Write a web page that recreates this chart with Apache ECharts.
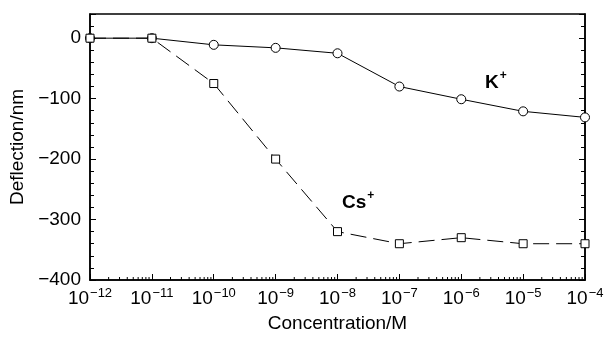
<!DOCTYPE html>
<html>
<head>
<meta charset="utf-8">
<script src="https://cdn.jsdelivr.net/npm/echarts@6/dist/echarts.min.js"></script>
<style>html,body{margin:0;padding:0;background:#fff}#c{width:607px;height:338px}</style>
</head>
<body>
<div id="c"></div>
<script>
var concentrations = [1e-12, 1e-11, 1e-10, 1e-9, 1e-8, 1e-7, 1e-6, 1e-5, 1e-4];
var kValues = [0, 0, -11, -16, -25, -80, -101, -121, -131];
var csValues = [0, 0, -75, -200, -320, -340, -330, -340, -340];
var xTickExponents = [-12, -11, -10, -9, -8, -7, -6, -5, -4];
var yTicks = [0, -100, -200, -300, -400];

var FONT = 'Liberation Sans, Arial, Helvetica, sans-serif';

function pairs(xs, ys) { return xs.map(function (x, i) { return [x, ys[i]]; }); }

// minor log tick positions (2..9 per decade)
var minorTicks = [];
for (var e = -12; e < -4; e++) {
  for (var m = 2; m <= 9; m++) minorTicks.push([m * Math.pow(10, e)]);
}

var chart = echarts.init(document.getElementById('c'), null, { renderer: 'canvas' });
chart.setOption({
  animation: false,
  backgroundColor: '#fff',
  grid: { left: 90, right: 22, top: 14, bottom: 53, show: true, borderColor: '#000', borderWidth: 1.5 },
  xAxis: [{
    type: 'log', logBase: 10, min: 1e-12, max: 1e-4,
    name: 'Concentration/M', nameLocation: 'middle', nameGap: 34,
    nameTextStyle: { fontFamily: FONT, fontSize: 19, color: '#000' },
    axisLine: { show: true, onZero: false, lineStyle: { color: '#000', width: 1.5 } },
    axisTick: { show: true, inside: true, length: 6, lineStyle: { color: '#000' } },
    minorTick: { show: false },
    splitLine: { show: false },
    axisLabel: {
      margin: 7, color: '#000', fontFamily: FONT,
      formatter: function (v) {
        var ex = Math.round(Math.log10(v));
        return '{b|10}{s|\u2212' + Math.abs(ex) + '}';
      },
      rich: {
        b: { fontSize: 19, fontFamily: FONT, color: '#000', verticalAlign: 'bottom', lineHeight: 21 },
        s: { fontSize: 13, fontFamily: FONT, color: '#000', verticalAlign: 'top', lineHeight: 21, padding: [0, 0, 7, 1] }
      }
    }
  }],
  yAxis: [{
    type: 'value', min: -400, max: 40, interval: 100,
    name: 'Deflection/nm', nameLocation: 'middle', nameGap: 60,
    nameTextStyle: { fontFamily: FONT, fontSize: 19, color: '#000' },
    axisLine: { show: true, onZero: false, lineStyle: { color: '#000', width: 1.5 } },
    axisTick: { show: true, inside: true, length: 6, lineStyle: { color: '#000' } },
    minorTick: { show: true, splitNumber: 5, length: 4, lineStyle: { color: '#000' } },
    splitLine: { show: false },
    axisLabel: {
      showMaxLabel: false, margin: 9, color: '#000', fontFamily: FONT, fontSize: 19,
      formatter: function (v) { return v < 0 ? '\u2212' + Math.abs(v) : String(v); }
    }
  }, {
    type: 'value', min: -400, max: 40, interval: 100, position: 'right',
    axisLine: { show: true, onZero: false, lineStyle: { color: '#000', width: 1.5 } },
    axisTick: { show: true, inside: true, length: 6, lineStyle: { color: '#000' } },
    minorTick: { show: true, splitNumber: 5, length: 4, lineStyle: { color: '#000' } },
    splitLine: { show: false },
    axisLabel: { show: false }
  }],
  series: [{
    name: 'minor', type: 'custom', silent: true, z: 1,
    data: minorTicks,
    renderItem: function (params, api) {
      var p = api.coord([api.value(0), -400]);
      return { type: 'line', shape: { x1: p[0], y1: p[1], x2: p[0], y2: p[1] - 3 }, style: { stroke: '#000', lineWidth: 1 } };
    },
    encode: { x: 0 }
  }, {
    name: 'K+', type: 'line', data: pairs(concentrations, kValues),
    symbol: 'circle', symbolSize: 9, z: 3,
    itemStyle: { color: '#fff', borderColor: '#000', borderWidth: 1 },
    lineStyle: { color: '#000', width: 1 }
  }, {
    name: 'Cs+', type: 'line', data: pairs(concentrations, csValues),
    symbol: 'rect', symbolSize: 8, z: 4,
    itemStyle: { color: '#fff', borderColor: '#000', borderWidth: 1 },
    lineStyle: { color: '#000', width: 1, type: [16, 7] }
  }],
  graphic: [{
    type: 'text', left: 485, top: 70, z: 10,
    style: {
      text: '{m|K}{s|+}', fill: '#000',
      rich: {
        m: { fontFamily: FONT, fontSize: 19, fontWeight: 'bold', verticalAlign: 'bottom', lineHeight: 22 },
        s: { fontFamily: FONT, fontSize: 12, fontWeight: 'bold', verticalAlign: 'top', lineHeight: 22, padding: [0, 0, 8, 1] }
      }
    }
  }, {
    type: 'text', left: 342, top: 190, z: 10,
    style: {
      text: '{m|Cs}{s|+}', fill: '#000',
      rich: {
        m: { fontFamily: FONT, fontSize: 19, fontWeight: 'bold', verticalAlign: 'bottom', lineHeight: 22 },
        s: { fontFamily: FONT, fontSize: 12, fontWeight: 'bold', verticalAlign: 'top', lineHeight: 22, padding: [0, 0, 8, 1] }
      }
    }
  }]
});
</script>
</body>
</html>
